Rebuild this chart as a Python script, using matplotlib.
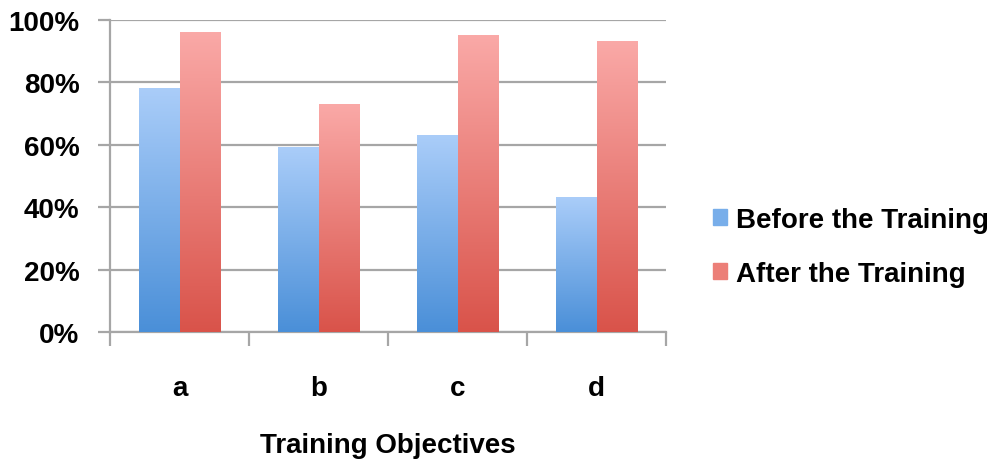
import numpy as np
import matplotlib.pyplot as plt
from matplotlib.colors import LinearSegmentedColormap
from matplotlib.patches import Patch

categories = ["a", "b", "c", "d"]
before = [78, 59, 63, 43]
after = [96, 73, 95, 93]
series_names = ["Before the Training", "After the Training"]
y_ticks = [0, 20, 40, 60, 80, 100]

plt.rcParams['font.family'] = ['Liberation Sans', 'DejaVu Sans']
plt.rcParams['font.weight'] = 'bold'

blue_cm = LinearSegmentedColormap.from_list("b", ["#4a8fd8", "#aacdf9"])
red_cm = LinearSegmentedColormap.from_list("r", ["#d9534a", "#faa9a7"])

fig = plt.figure(figsize=(10.02, 4.64), dpi=100)
ax = fig.add_axes([110/1002, (464-333)/464, 556/1002, 312/464])

grad = np.linspace(0, 1, 256).reshape(-1, 1)
w = 0.288
x = np.arange(len(categories))
for i in range(len(categories)):
    for vals, cm, off in ((before, blue_cm, -w), (after, red_cm, 0)):
        ax.imshow(grad, extent=[x[i]+off, x[i]+off+w, 0, vals[i]],
                  origin='lower', aspect='auto', cmap=cm, zorder=3)

ax.set_xlim(-0.5, len(categories)-0.5)
ax.set_ylim(0, 100)

ax.set_yticks(y_ticks)
ax.set_yticklabels([f"{v}%" for v in y_ticks], fontsize=20, fontweight='bold')
ax.yaxis.grid(True, color='#a6a6a6', linewidth=1.6, zorder=0)
ax.set_axisbelow(True)

ax.set_xticks(x)
ax.set_xticklabels(categories, fontsize=20, fontweight='bold')
ax.set_xticks(np.arange(-0.5, len(categories)), minor=True)
ax.tick_params(axis='x', which='major', length=0, pad=31)
ax.tick_params(axis='x', which='minor', length=10, width=1.6, color='#a6a6a6')
ax.tick_params(axis='y', length=9, width=1.6, color='#a6a6a6', pad=13)

for s in ['top', 'right']:
    ax.spines[s].set_visible(False)
for s in ['left', 'bottom']:
    ax.spines[s].set_color('#a6a6a6')
    ax.spines[s].set_linewidth(1.6)

ax.set_xlabel("Training Objectives", fontsize=20, fontweight='bold', labelpad=22)

handles = [Patch(color="#78aeea", label=series_names[0]),
           Patch(color="#ec7f78", label=series_names[1])]
fig.legend(handles=handles, loc='center left', bbox_to_anchor=(699/1002, 1-248/464),
           frameon=False, prop={'size': 20, 'weight': 'bold'},
           handlelength=0.5, handleheight=0.5, handletextpad=0.35, labelspacing=1.0,
           borderpad=0)

fig.savefig("out.png", dpi=100)
